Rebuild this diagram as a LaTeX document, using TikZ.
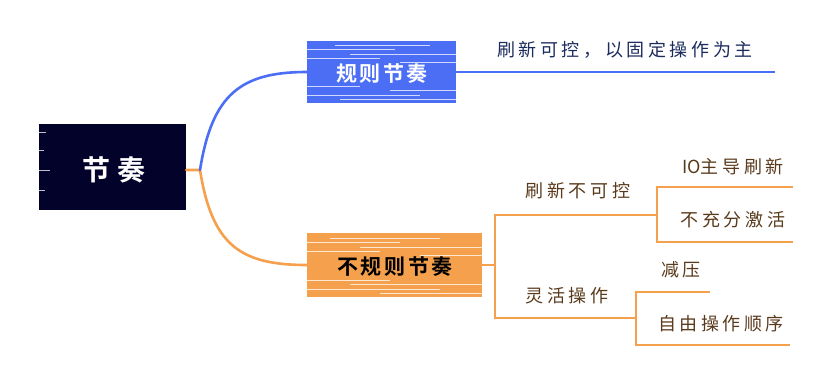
\documentclass[tikz,border=0pt]{standalone}
\usepackage{fontspec}
\newfontfamily\cjk[LetterSpace=20]{Noto Sans CJK SC}
\newfontfamily\cjkn{Noto Sans CJK SC}
\newfontfamily\cjkb[LetterSpace=12]{Noto Sans CJK SC Bold}
\newfontfamily\cjkbr[LetterSpace=22]{Noto Sans CJK SC Bold}
\definecolor{navy}{HTML}{02022B}
\definecolor{bluec}{HTML}{4B6EF5}
\definecolor{orangec}{HTML}{F5A04C}
\definecolor{bluetext}{HTML}{1C2B5E}
\definecolor{browntext}{HTML}{5A3A1C}
\begin{document}
\begin{tikzpicture}[x=1pt,y=-1pt,
  rootbox/.style={fill=navy, minimum width=147pt, minimum height=86pt, inner sep=0pt},
  bluebox/.style={fill=bluec, minimum width=149pt, minimum height=62pt, inner sep=0pt},
  orangebox/.style={fill=orangec, minimum width=175pt, minimum height=64pt, inner sep=0pt},
  roottext/.style={text=white, font=\cjkbr\fontsize{28}{30}\selectfont, inner sep=0pt},
  bluetitle/.style={text=white, font=\cjkb\fontsize{21}{24}\selectfont, inner sep=0pt},
  orangetitle/.style={text=black, font=\cjkb\fontsize{21}{24}\selectfont, inner sep=0pt},
  bluesub/.style={text=bluetext, font=\cjk\fontsize{18}{20}\selectfont, inner sep=0pt},
  brownsub/.style={text=browntext, font=\cjk\fontsize{18}{20}\selectfont, inner sep=0pt},
  streak/.style={draw=white, line width=0.6pt, opacity=0.75},
  bline/.style={draw=bluec, line width=1.6pt},
  oline/.style={draw=orangec, line width=1.3pt},
  curve/.style={line width=2.6pt, line cap=round}
]
\useasboundingbox (0,0) rectangle (835,384);

% boxes
\node[rootbox] (root) at (112.5,167) {};
\node[bluebox] (b) at (381.5,72) {};
\node[orangebox] (o) at (394.5,265) {};

% streaks (sketchy fill look)
\foreach \y/\a/\c in {132/39/46, 150/39/44, 170/39/50, 190/39/45}
  \draw[streak] (\a,\y) -- (\c,\y);
\foreach \y/\a/\c in {45/335/430, 49/307/395, 54/350/456, 58/307/380, 62/400/456, 86/307/360, 90/390/456, 95/307/420, 99/340/456}
  \draw[streak] (\a,\y) -- (\c,\y);
\foreach \y/\a/\c in {238/330/440, 242/307/400, 247/360/482, 251/307/380, 255/420/482, 280/307/390, 284/350/482, 289/307/440, 293/380/482}
  \draw[streak] (\a,\y) -- (\c,\y);

% titles
\node[roottext] (rt) at (114,170) {节奏};
\node[bluetitle] (bt) at (382,74) {规则节奏};
\node[orangetitle] (ot) at (395,267) {不规则节奏};

% main curves
\coordinate (jr) at (200,170);
\draw[orangec, curve] (root.east |- jr) -- (jr) .. controls (212,245) and (240,265) .. (o.west);
\draw[bluec, curve] (jr) .. controls (212,95) and (240,72) .. (b.west);

% blue branch
\coordinate (bEnd) at (775,72);
\draw[bline] (b.east) -- (bEnd);
\node[bluesub] (bs) at (625,50) {刷新可控，以固定操作为主};

% orange branch
\coordinate (jo) at (495,265);
\coordinate (u1) at (657,215);
\coordinate (u2) at (636,318);
\coordinate (u11) at (793,187);
\coordinate (u12) at (793,242);
\coordinate (u21) at (710,292);
\coordinate (u22) at (790,345);
\draw[oline] (o.east) -- (jo);
\draw[oline] (jo) |- (u1);
\draw[oline] (jo) |- (u2);
\draw[oline] (u1) |- (u11);
\draw[oline] (u1) |- (u12);
\draw[oline] (u2) |- (u21);
\draw[oline] (u2) |- (u22);

\node[brownsub] (n1) at (578,191) {刷新不可控};
\node[brownsub] (n2) at (567,296) {灵活操作};
\node[brownsub] (n11) at (733,167) {{\cjkn IO}主导刷新};
\node[brownsub] (n12) at (733,220) {不充分激活};
\node[brownsub] (n21) at (681,270) {减压};
\node[brownsub] (n22) at (721,324) {自由操作顺序};
\end{tikzpicture}
\end{document}
